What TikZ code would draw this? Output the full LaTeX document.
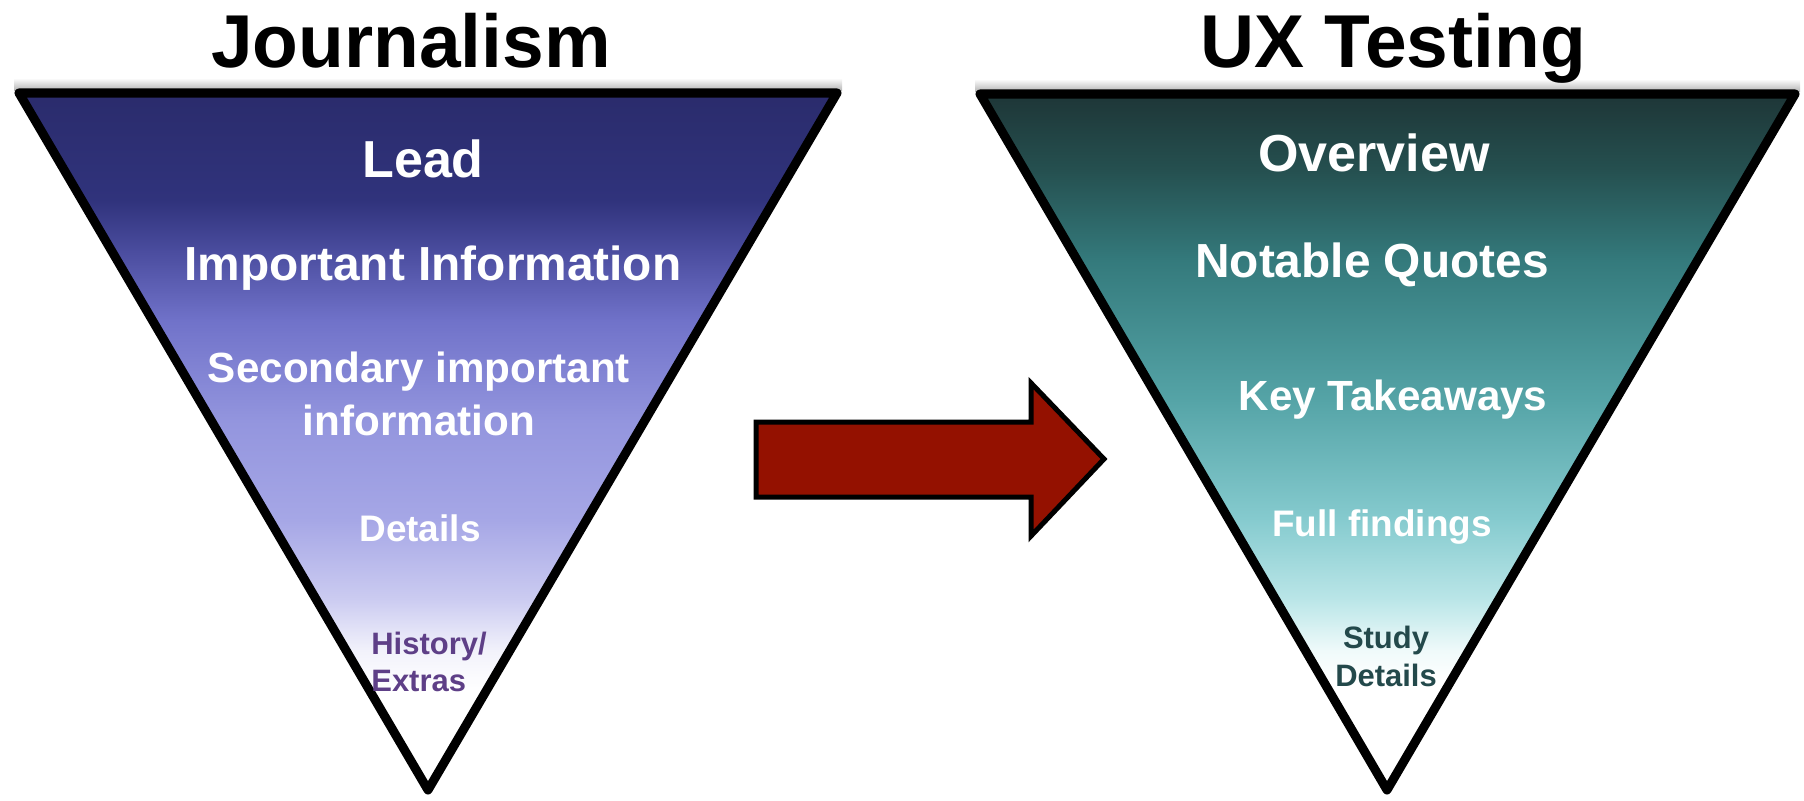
\documentclass[tikz,border=0pt]{standalone}
\usepackage{fontspec}
\setmainfont{Liberation Sans}
\usepackage{tikz}
\usetikzlibrary{positioning}

\definecolor{jA}{HTML}{2A2B6B}
\definecolor{jB}{HTML}{30337C}
\definecolor{jC}{HTML}{4A4C9E}
\definecolor{jD}{HTML}{7072C9}
\definecolor{jE}{HTML}{9395DE}
\definecolor{jF}{HTML}{A6A7E6}
\definecolor{jG}{HTML}{CCCCF1}
\definecolor{jH}{HTML}{F2F2FB}
\definecolor{uA}{HTML}{1D3334}
\definecolor{uB}{HTML}{255050}
\definecolor{uC}{HTML}{347A7C}
\definecolor{uD}{HTML}{55A4A7}
\definecolor{uE}{HTML}{86CBCF}
\definecolor{uF}{HTML}{BBE6E8}
\definecolor{uG}{HTML}{EFFAFA}
\definecolor{histcol}{HTML}{5E3F87}
\definecolor{studycol}{HTML}{23494B}
\definecolor{arrowred}{HTML}{941100}

\newcommand{\bigbf}[2]{\fontsize{#1}{#2}\selectfont\bfseries}

\begin{document}
\begin{tikzpicture}[x=0.01cm,y=-0.01cm,
    heading/.style={font=\bigbf{21.3pt}{25pt},anchor=base,inner sep=0pt},
    tier/.style={text=white,anchor=base,inner sep=0pt,align=center},
    funnel/.style={draw=black,line width=0.09cm,line join=round},
    topshade/.style={top color=white,bottom color=black!28}]

    \useasboundingbox (0,0) rectangle (1804,800);

    \coordinate (jl) at (19, 93);
    \coordinate (jr) at (837, 93);
    \coordinate (jb) at (428, 790);
    \coordinate (ul) at (980, 94);
    \coordinate (ur) at (1795, 94);
    \coordinate (ub) at (1387, 790);

    \shade[topshade] (14,78) rectangle (842,90);
    \shade[topshade] (975,79) rectangle (1800,91);

    \begin{scope}
      \clip (jl) -- (jr) -- (jb) -- cycle;
      \foreach \ya/\ca/\yb/\cb in {85/jA/201/jB, 200/jB/251/jC, 250/jC/321/jD, 320/jD/421/jE,
                                   420/jE/521/jF, 520/jF/601/jG, 600/jG/651/jH, 650/jH/691/white}
        \shade[top color=\ca,bottom color=\cb] (0,\ya) rectangle (900,\yb);
    \end{scope}
    \begin{scope}
      \clip (ul) -- (ur) -- (ub) -- cycle;
      \foreach \ya/\ca/\yb/\cb in {85/uA/171/uB, 170/uB/261/uC, 260/uC/401/uD, 400/uD/521/uE,
                                   520/uE/601/uF, 600/uF/651/uG, 650/uG/681/white}
        \shade[top color=\ca,bottom color=\cb] (950,\ya) rectangle (1804,\yb);
    \end{scope}

    \draw[funnel] (jl) -- (jr) -- (jb) -- cycle;
    \draw[funnel] (ul) -- (ur) -- (ub) -- cycle;

    \draw[draw=black,line width=0.05cm,fill=arrowred,line join=miter]
      (756,422) -- (1031,422) -- (1031,383) -- (1104,459) -- (1031,536) -- (1031,497) -- (756,497) -- cycle;

    \node[heading]                                      (jtitle)  at (411, 67)   {Journalism};
    \node[heading]                                      (utitle)  at (1393, 67)  {UX Testing};

    \node[tier,font=\bigbf{14.8pt}{17pt}]               (lead)    at (423, 177)  {Lead};
    \node[tier,font=\bigbf{13.6pt}{16pt}]               (imp)     at (433, 280)  {Important Information};
    \node[tier,font=\bigbf{12pt}{14.8pt}]               (second)  at (419, 435)  {Secondary important\\information};
    \node[tier,font=\bigbf{10.5pt}{12pt}]               (details) at (420, 541)  {Details};
    \node[tier,font=\bigbf{8.8pt}{10.3pt},text=histcol,align=left]
                                                        (history) at (429, 691)  {History/\\Extras};

    \node[tier,font=\bigbf{14.8pt}{17pt}]               (over)    at (1374, 171) {Overview};
    \node[tier,font=\bigbf{13.6pt}{16pt}]               (quotes)  at (1372, 277) {Notable Quotes};
    \node[tier,font=\bigbf{12pt}{14pt}]                 (keys)    at (1393, 410) {Key Takeaways};
    \node[tier,font=\bigbf{10.5pt}{12pt}]               (full)    at (1382, 536) {Full findings};
    \node[tier,font=\bigbf{8.8pt}{10.8pt},text=studycol] (study)  at (1386, 686) {Study\\Details};
  \end{tikzpicture}
\end{document}
